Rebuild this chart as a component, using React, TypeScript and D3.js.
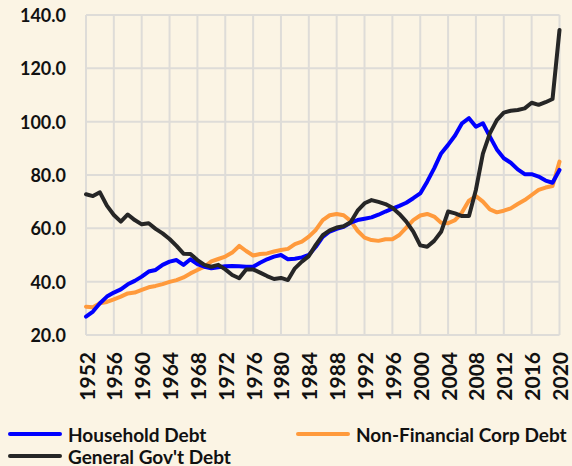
import React from "react";
import * as d3 from "d3";

const years: number[] = d3.range(1952, 2021);
const tickYears: number[] = d3.range(1952, 2021, 4);
const yTicks: number[] = [20, 40, 60, 80, 100, 120, 140];

const household: number[] = [
  26.9, 28.8, 31.9, 34.4, 35.9, 37.1, 39.0, 40.3, 41.9, 43.8,
  44.4, 46.3, 47.5, 48.1, 46.3, 48.4, 46.6, 45.6, 45.0, 45.4,
  45.8, 45.9, 45.8, 45.6, 45.6, 47.1, 48.4, 49.4, 50.0, 48.4,
  48.6, 49.1, 50.0, 53.1, 56.8, 58.8, 59.8, 60.6, 62.1, 63.1,
  63.6, 64.1, 65.1, 66.3, 67.4, 68.4, 69.6, 71.3, 73.1, 77.5,
  82.5, 88.1, 91.3, 94.8, 99.4, 101.3, 98.1, 99.4, 94.4, 89.6,
  86.3, 84.6, 82.1, 80.3, 80.3, 79.4, 77.9, 77.1, 81.9,
];

const nonFinCorp: number[] = [
  30.6, 30.4, 31.9, 32.4, 33.4, 34.4, 35.6, 35.9, 36.9, 37.9,
  38.4, 39.1, 39.9, 40.6, 41.6, 43.1, 44.4, 45.6, 47.6, 48.5,
  49.4, 50.9, 53.4, 51.5, 49.8, 50.4, 50.6, 51.3, 51.9, 52.3,
  54.1, 55.0, 56.9, 59.4, 63.1, 64.9, 65.4, 64.9, 62.8, 59.1,
  56.5, 55.6, 55.3, 55.9, 55.9, 57.5, 60.3, 63.1, 64.8, 65.4,
  64.4, 62.1, 61.9, 63.1, 66.0, 70.4, 72.1, 70.0, 67.1, 66.0,
  66.6, 67.5, 69.1, 70.6, 72.5, 74.4, 75.3, 75.9, 85.0,
];

const govDebt: number[] = [
  72.8, 72.1, 73.5, 68.5, 65.0, 62.5, 65.2, 63.1, 61.5, 61.9,
  59.8, 58.1, 56.0, 53.4, 50.5, 50.4, 48.1, 46.3, 45.6, 46.3,
  44.6, 42.5, 41.3, 44.6, 44.6, 43.4, 42.1, 41.0, 41.4, 40.6,
  45.0, 47.5, 49.6, 53.8, 57.4, 59.2, 60.3, 60.8, 62.3, 66.6,
  69.4, 70.6, 69.9, 69.1, 67.7, 65.4, 62.5, 58.8, 53.6, 53.1,
  55.3, 58.7, 66.3, 65.6, 64.6, 64.6, 74.5, 88.0, 95.6, 100.6,
  103.4, 104.1, 104.4, 105.0, 107.1, 106.3, 107.3, 108.5, 134.4,
];

const seriesNames: string[] = ["Household Debt", "Non-Financial Corp Debt", "General Gov't Debt"];
const seriesColors: string[] = ["#0000FF", "#FF9A3C", "#262626"];

const W = 572;
const H = 466;
const plot = { left: 86, right: 559.5, top: 15, bottom: 335 };
const FONT = "Lato, 'Open Sans', sans-serif";

export default function App() {
  const x = d3.scaleLinear().domain([1952, 2020]).range([plot.left, plot.right]);
  const y = d3.scaleLinear().domain([20, 140]).range([plot.bottom, plot.top]);
  const line = d3
    .line<number>()
    .x((_, i) => x(years[i]))
    .y((d) => y(d))
    .curve(d3.curveLinear);

  const allSeries = [household, nonFinCorp, govDebt];
  const drawOrder = [1, 0, 2];

  const legendItems = [
    { i: 0, lx: 10, ly: 434 },
    { i: 1, lx: 298, ly: 434 },
    { i: 2, lx: 10, ly: 456 },
  ];

  return (
    <svg
      width={W}
      height={H}
      style={{ position: "absolute", left: 0, top: 0, background: "#FBF4E4" }}
      fontFamily={FONT}
    >
      <rect x={0} y={0} width={W} height={H} fill="#FBF4E4" />
      <g stroke="#DEDCD8" strokeWidth={2}>
        {yTicks.map((t) => (
          <line key={"h" + t} x1={plot.left} x2={plot.right} y1={y(t)} y2={y(t)} />
        ))}
        {tickYears.map((t) => (
          <line key={"v" + t} x1={x(t)} x2={x(t)} y1={plot.top} y2={plot.bottom} />
        ))}
      </g>
      <g fontWeight="bold" fontSize={18} fill="#111">
        {yTicks.map((t) => (
          <text key={"yl" + t} x={66} y={y(t)} textAnchor="end" dominantBaseline="central">
            {d3.format(".1f")(t)}
          </text>
        ))}
      </g>
      <g fontWeight="bold" fontSize={21} fill="#111">
        {tickYears.map((t) => (
          <text
            key={"xl" + t}
            transform={`translate(${x(t)},352) rotate(-90)`}
            textAnchor="end"
            dominantBaseline="central"
          >
            {t}
          </text>
        ))}
      </g>
      <g fill="none" strokeWidth={4} strokeLinejoin="round" strokeLinecap="round">
        {drawOrder.map((i) => (
          <path key={"s" + i} d={line(allSeries[i]) || ""} stroke={seriesColors[i]} />
        ))}
      </g>
      <g fontWeight="bold" fontSize={19} fill="#111">
        {legendItems.map(({ i, lx, ly }) => (
          <g key={"lg" + i}>
            <line x1={lx} x2={lx + 50} y1={ly} y2={ly} stroke={seriesColors[i]} strokeWidth={4} strokeLinecap="round" />
            <text x={lx + 58} y={ly} dominantBaseline="central">
              {seriesNames[i]}
            </text>
          </g>
        ))}
      </g>
    </svg>
  );
}
